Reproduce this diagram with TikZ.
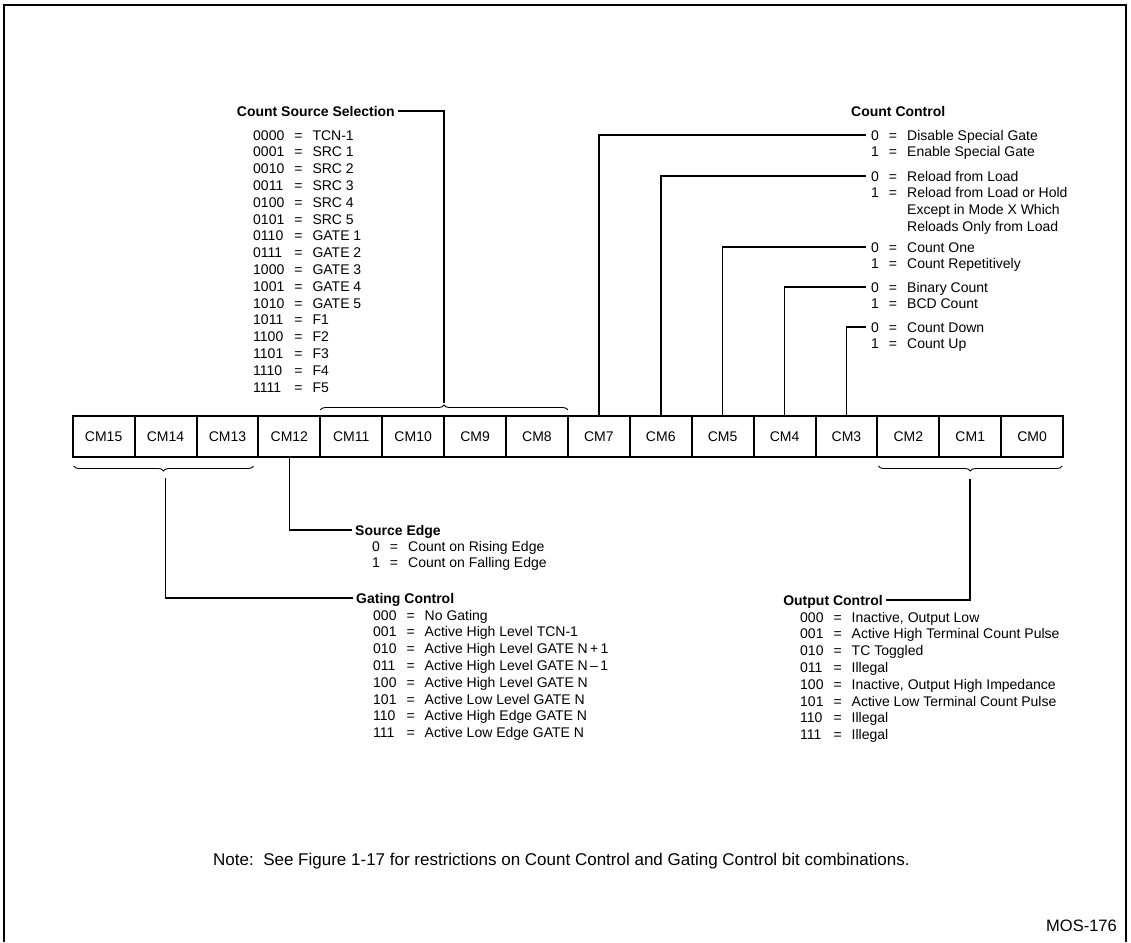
\documentclass[tikz,border=0pt]{standalone}
\usepackage{fontspec}
\setmainfont{Liberation Sans}
\usetikzlibrary{positioning,calc,decorations.pathreplacing}
\tikzset{cell/.style={draw,line width=2pt,minimum width=61.9pt,minimum height=41pt,inner sep=0pt,outer sep=0pt,font=\fontsize{14}{16}\selectfont}, wire/.style={line width=1.6pt}, grp/.style={decorate,decoration={brace,amplitude=5pt},line width=0.9pt}, head/.style={font=\bfseries\fontsize{14}{16}\selectfont,inner ysep=0pt,inner xsep=3pt,text height=10pt,text depth=0pt}, codes/.style={font=\fontsize{14}{16.8}\selectfont,inner sep=0pt,anchor=base west}}
\newcommand{\codelist}[1]{\begin{tabular}[t]{@{}l@{\hspace{10pt}}c@{\hspace{10pt}}l@{}}#1\end{tabular}}

\begin{document}
\begin{tikzpicture}[x=1pt,y=-1pt]
\useasboundingbox (0,0) rectangle (1131,942);
\draw[line width=1.4pt] (4,942) -- (4,5) -- (1126,5) -- (1126,942);
% mode register
\node[cell,anchor=north west] (cm15) at (72.7,416) {CM15};
\node[cell,right=0pt of cm15] (cm14) {CM14};
\node[cell,right=0pt of cm14] (cm13) {CM13};
\node[cell,right=0pt of cm13] (cm12) {CM12};
\node[cell,right=0pt of cm12] (cm11) {CM11};
\node[cell,right=0pt of cm11] (cm10) {CM10};
\node[cell,right=0pt of cm10] (cm9) {CM9};
\node[cell,right=0pt of cm9] (cm8) {CM8};
\node[cell,right=0pt of cm8] (cm7) {CM7};
\node[cell,right=0pt of cm7] (cm6) {CM6};
\node[cell,right=0pt of cm6] (cm5) {CM5};
\node[cell,right=0pt of cm5] (cm4) {CM4};
\node[cell,right=0pt of cm4] (cm3) {CM3};
\node[cell,right=0pt of cm3] (cm2) {CM2};
\node[cell,right=0pt of cm2] (cm1) {CM1};
\node[cell,right=0pt of cm1] (cm0) {CM0};
% count source selection
\draw[grp] ([yshift=6pt]cm11.north west) -- ([yshift=6pt]cm8.north east);
\coordinate (selbr) at ($(cm11.north west)!.5!(cm8.north east)+(0,-13)$);
\node[head,anchor=east] (srchead) at (398,111) {Count Source Selection};
\draw[wire] (selbr) |- (srchead.east);
\node[codes] (srclist) at (253,140) {\codelist{0000 & = & TCN-1\\0001 & = & SRC 1\\0010 & = & SRC 2\\0011 & = & SRC 3\\0100 & = & SRC 4\\0101 & = & SRC 5\\0110 & = & GATE 1\\0111 & = & GATE 2\\1000 & = & GATE 3\\1001 & = & GATE 4\\1010 & = & GATE 5\\1011 & = & F1\\1100 & = & F2\\1101 & = & F3\\1110 & = & F4\\1111 & = & F5}};
% count control
\node[head,anchor=base west] (cnthead) at (848,116) {Count Control};
\coordinate (c7) at (866,135);
\coordinate (c6) at (866,176);
\coordinate (c5) at (866,247);
\coordinate (c4) at (866,287);
\coordinate (c3) at (866,327);
\draw[wire] (cm7.north) |- (c7);
\draw[wire] (cm6.north) |- (c6);
\draw[wire] (cm5.north) |- (c5);
\draw[wire] (cm4.north) |- (c4);
\draw[wire] (cm3.north) |- (c3);
\node[codes] (c7list) at (871,140) {\codelist{0 & = & Disable Special Gate\\1 & = & Enable Special Gate}};
\node[codes] (c6list) at (871,181) {\codelist{0 & = & Reload from Load\\1 & = & Reload from Load or Hold\\ & & Except in Mode X Which\\ & & Reloads Only from Load}};
\node[codes] (c5list) at (871,252) {\codelist{0 & = & Count One\\1 & = & Count Repetitively}};
\node[codes] (c4list) at (871,292) {\codelist{0 & = & Binary Count\\1 & = & BCD Count}};
\node[codes] (c3list) at (871,332) {\codelist{0 & = & Count Down\\1 & = & Count Up}};
% source edge
\node[head,anchor=west] (edgehead) at (352,530) {Source Edge};
\draw[wire] (cm12.south) |- (edgehead.west);
\node[codes] (edgelist) at (372,551) {\codelist{0 & = & Count on Rising Edge\\1 & = & Count on Falling Edge}};
% gating control
\draw[grp] ([xshift=-5pt,yshift=-9pt]cm13.south east) -- ([xshift=1pt,yshift=-9pt]cm15.south west);
\coordinate (gatbr) at ($(cm15.south west)!.5!(cm13.south east)+(0,21)$);
\node[head,anchor=west] (gathead) at (353,598) {Gating Control};
\draw[wire] (gatbr) |- (gathead.west);
\node[codes] (gatlist) at (373,620) {\codelist{000 & = & No Gating\\001 & = & Active High Level TCN-1\\010 & = & Active High Level GATE N\,+\,1\\011 & = & Active High Level GATE N\,\textendash\,1\\100 & = & Active High Level GATE N\\101 & = & Active Low Level GATE N\\110 & = & Active High Edge GATE N\\111 & = & Active Low Edge GATE N}};
% output control
\draw[grp] ([xshift=-1pt,yshift=-9pt]cm0.south east) -- ([xshift=1pt,yshift=-9pt]cm2.south west);
\coordinate (outbr) at ($(cm2.south west)!.5!(cm0.south east)+(0,22)$);
\node[head,anchor=east] (outhead) at (886,600) {Output Control};
\draw[wire] (outbr) |- (outhead.east);
\node[codes] (outlist) at (800,622) {\codelist{000 & = & Inactive, Output Low\\001 & = & Active High Terminal Count Pulse\\010 & = & TC Toggled\\011 & = & Illegal\\100 & = & Inactive, Output High Impedance\\101 & = & Active Low Terminal Count Pulse\\110 & = & Illegal\\111 & = & Illegal}};
% note
\node[codes,font=\fontsize{17}{20}\selectfont] (note) at (213,865) {Note:\ \ See Figure 1-17 for restrictions on Count Control and Gating Control bit combinations.};
\node[codes,anchor=base east,font=\fontsize{16.5}{20}\selectfont] (mos) at (1117,931) {MOS-176};
\end{tikzpicture}
\end{document}
